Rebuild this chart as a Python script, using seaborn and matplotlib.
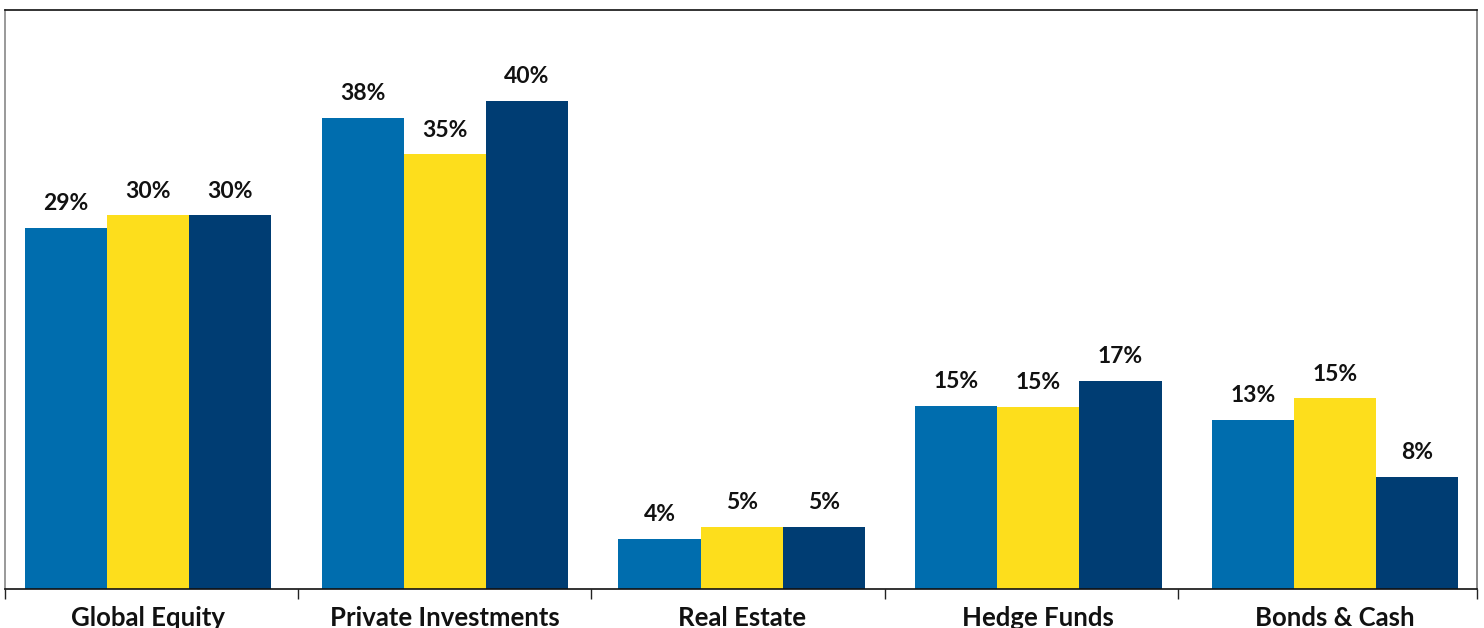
import numpy as np
import pandas as pd
import matplotlib
matplotlib.use("Agg")
import matplotlib.pyplot as plt
import seaborn as sns

# datos
categorias = ["Global Equity", "Private Investments", "Real Estate", "Hedge Funds", "Bonds & Cash"]
series = ["Serie 1", "Serie 2", "Serie 3"]
valores_s1 = [29.0, 37.8, 4.0, 14.7, 13.6]
valores_s2 = [30.0, 34.9, 5.0, 14.6, 15.3]
valores_s3 = [30.0, 39.2, 5.0, 16.7, 9.0]
etiquetas_s1 = ["29%", "38%", "4%", "15%", "13%"]
etiquetas_s2 = ["30%", "35%", "5%", "15%", "15%"]
etiquetas_s3 = ["30%", "40%", "5%", "17%", "8%"]
colores = ["#006DAE", "#FDDE1C", "#003D73"]

df = pd.DataFrame({
    "Categoria": categorias * 3,
    "Serie": [series[0]] * 5 + [series[1]] * 5 + [series[2]] * 5,
    "Valor": valores_s1 + valores_s2 + valores_s3,
})

sns.set_style("white")
plt.rcParams['font.family'] = ['Lato', 'DejaVu Sans']

fig = plt.figure(figsize=(14.84, 6.28), dpi=100)
ax = fig.add_axes([5 / 1484, 1 - 589 / 628, 1472 / 1484, 579 / 628])

sns.barplot(data=df, x="Categoria", y="Valor", hue="Serie", order=categorias,
            hue_order=series, palette=colores, width=0.83, gap=0,
            saturation=1, legend=False, ax=ax, linewidth=0)

for cont, etiquetas in zip(ax.containers, [etiquetas_s1, etiquetas_s2, etiquetas_s3]):
    ax.bar_label(cont, labels=etiquetas, padding=10, fontsize=16.5, fontweight="bold", color="#111111")

x0, x1 = -0.482, 4.478
ax.set_xlim(x0, x1)
ax.set_ylim(0, 46.5)
ax.set_yticks([])
ax.set_xlabel("")
ax.set_ylabel("")

# marcas entre categorias (un poco mas juntas que las barras)
paso = 0.988
ax.set_xticks([x0 + k * paso for k in range(5)] + [x1], minor=True)
ax.tick_params(axis="x", which="minor", length=7, width=1, color="#222222", direction="out", bottom=True)
ax.tick_params(axis="x", which="major", length=0, pad=12, labelsize=18.5)
for lab in ax.get_xticklabels():
    lab.set_fontweight("bold")
    lab.set_color("#111111")

ax.spines["top"].set_color("#111111")
ax.spines["bottom"].set_color("#111111")
ax.spines["left"].set_color("#888888")
ax.spines["right"].set_color("#777777")
for s in ax.spines.values():
    s.set_linewidth(1.2)

plt.savefig("out.png", dpi=100)
plt.close()
